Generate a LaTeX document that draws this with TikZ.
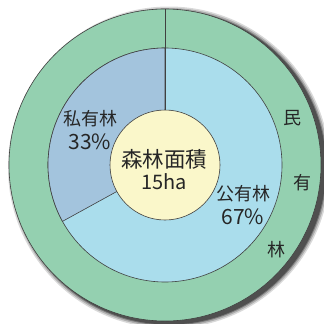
\documentclass[tikz,border=0pt]{standalone}
\usepackage{fontspec}
\setmainfont{Noto Sans CJK JP}
\usetikzlibrary{calc}

\definecolor{minyuu}{RGB}{148,208,176}
\definecolor{kouyuu}{RGB}{170,221,236}
\definecolor{shiyuu}{RGB}{163,196,221}
\definecolor{menseki}{RGB}{250,247,202}
\newcommand{\pctsize}{\fontsize{21}{24}\selectfont}

\begin{document}
\begin{tikzpicture}[%
      x=1pt, y=-1pt,
      ring/.style={draw=black!75, line width=0.6pt},
      label/.style={text=black!85, align=center, inner sep=0pt, font=\fontsize{18}{24}\selectfont},
      ]
      \useasboundingbox (0,0) rectangle (324,324);
      \coordinate (c) at (165,165);

      % shadow
      \foreach \r/\o in {161/0.15, 159.5/0.2, 158/0.3, 157/0.35}
        \fill [black, opacity=\o] ($(c)+(4,2.5)$) circle (\r pt);

      % outer ring and pie
      \filldraw [ring, fill=minyuu] (c) circle (156pt);
      \filldraw [ring, fill=kouyuu] (c) circle (117pt);
      \filldraw [ring, fill=shiyuu] (c) -- ++(90:117pt) arc [start angle=90, end angle=208.8, radius=117pt] -- cycle;
      \filldraw [ring, fill=menseki] (c) circle (55pt);

      \coordinate (top1) at ($(c)+(90:55pt)$);
      \coordinate (top2) at ($(c)+(90:156pt)$);
      \draw [ring] (top1) -- (top2);

      % labels
      \node [label, font=\fontsize{21.5}{22}\selectfont] (area) at (164,170) {森林面積\\{\fontsize{20}{22}\selectfont 15ha}};
      \node [label] (shi) at (90,130) {私有林\\{\pctsize 33\%}};
      \node [label] (kou) at (243,205) {公有林\\{\pctsize 67\%}};
      \node [label] (min1) at (292,118) {民};
      \node [label] (min2) at (302,183) {有};
      \node [label] (min3) at (276,250) {林};
\end{tikzpicture}
\end{document}
